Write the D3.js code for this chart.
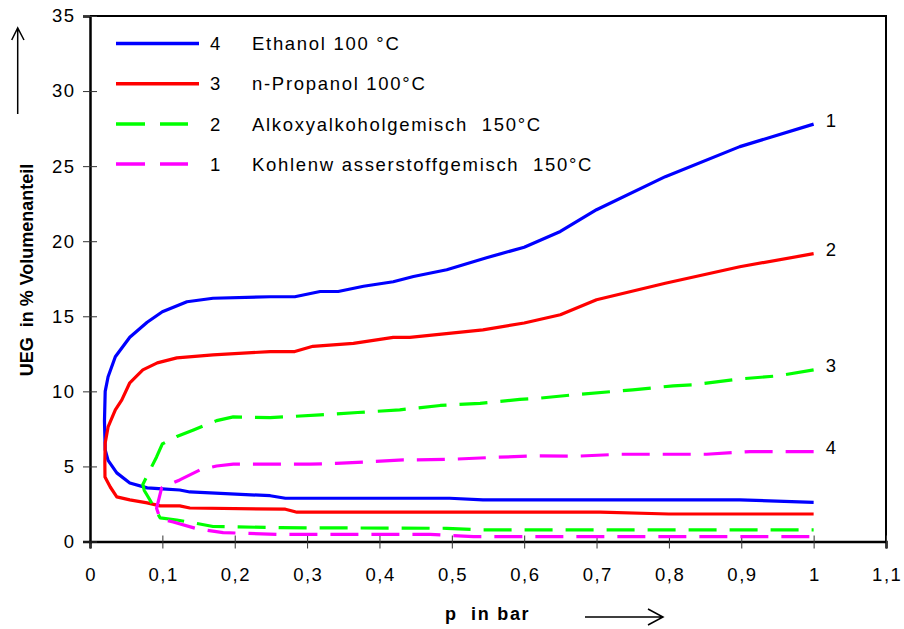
<!DOCTYPE html>
<html>
<head>
<meta charset="utf-8">
<script src="https://cdn.jsdelivr.net/npm/d3@7"></script>
<style>
  body { margin: 0; background: #fff; }
  svg text { font-family: "Liberation Sans", Arial, sans-serif; white-space: pre; }
</style>
</head>
<body>
<div id="chart"></div>
<script>
// UEG curves, each traced from the right end of the upper branch,
// round the nose and back out along the lower branch: [p in bar, UEG in %]
var ethanol = [
  [1.0, 27.8], [0.898, 26.3], [0.795, 24.3], [0.70, 22.1], [0.65, 20.65], [0.6, 19.6],
  [0.548, 18.9], [0.493, 18.1], [0.447, 17.65], [0.419, 17.3], [0.378, 17.0], [0.343, 16.65],
  [0.318, 16.65], [0.283, 16.3], [0.249, 16.3], [0.17, 16.2], [0.134, 15.97], [0.10, 15.3],
  [0.079, 14.6], [0.055, 13.6], [0.035, 12.3], [0.025, 10.97], [0.021, 10.0], [0.02, 8.0],
  [0.021, 6.1], [0.025, 5.4], [0.037, 4.57], [0.055, 3.9], [0.079, 3.57], [0.1, 3.5],
  [0.124, 3.43], [0.138, 3.3], [0.249, 3.05], [0.27, 2.88], [0.497, 2.88], [0.543, 2.77],
  [0.898, 2.77], [1.0, 2.61]
];
var propanol = [
  [1.0, 19.17], [0.898, 18.3], [0.795, 17.2], [0.70, 16.1], [0.65, 15.1], [0.6, 14.55],
  [0.543, 14.1], [0.442, 13.6], [0.419, 13.6], [0.364, 13.2], [0.308, 13.0], [0.283, 12.65],
  [0.249, 12.65], [0.17, 12.43], [0.12, 12.23], [0.093, 11.9], [0.073, 11.43], [0.055, 10.57],
  [0.044, 9.43], [0.035, 8.77], [0.025, 7.63], [0.021, 6.57], [0.0205, 5.3], [0.0207, 4.3],
  [0.028, 3.63], [0.037, 2.97], [0.055, 2.77], [0.079, 2.57], [0.097, 2.37], [0.124, 2.37],
  [0.138, 2.23], [0.27, 2.15], [0.286, 1.95], [0.705, 1.95], [0.8, 1.83], [1.0, 1.83]
];
var alkoxy = [
  [1.0, 11.43], [0.95, 11.03], [0.894, 10.81], [0.833, 10.43], [0.806, 10.37], [0.75, 10.1],
  [0.677, 9.81], [0.622, 9.55], [0.594, 9.47], [0.539, 9.2], [0.484, 9.06], [0.428, 8.77],
  [0.37, 8.59], [0.318, 8.43], [0.249, 8.25], [0.198, 8.3], [0.175, 8.05], [0.143, 7.43],
  [0.12, 7.0], [0.1, 6.5], [0.092, 5.63], [0.083, 4.77], [0.073, 3.8], [0.075, 3.4],
  [0.08, 3.0], [0.092, 1.99], [0.097, 1.57], [0.12, 1.43], [0.148, 1.2], [0.17, 1.0],
  [0.263, 0.92], [0.493, 0.88], [0.543, 0.77], [1.0, 0.77]
];
var kohlenwasserstoff = [
  [1.0, 5.99], [0.912, 5.99], [0.852, 5.81], [0.732, 5.81], [0.672, 5.68], [0.612, 5.7],
  [0.557, 5.6], [0.497, 5.47], [0.433, 5.43], [0.34, 5.2], [0.304, 5.15], [0.198, 5.15],
  [0.175, 5.03], [0.152, 4.77], [0.124, 4.1], [0.099, 3.57], [0.092, 2.21], [0.097, 1.5],
  [0.115, 1.3], [0.148, 0.85], [0.184, 0.59], [0.258, 0.48], [0.47, 0.48], [0.53, 0.32],
  [1.0, 0.32]
];

var legendNumbers = ["4", "3", "2", "1"];
var legendNames = ["Ethanol 100 °C", "n-Propanol 100°C", "Alkoxyalkoholgemisch  150°C", "Kohlenw asserstoffgemisch  150°C"];
var endLabels = ["1", "2", "3", "4"];
var colors = ["#0000ff", "#ff0000", "#00ff00", "#ff00ff"];
var dashed = [false, false, true, true];

var xTicks = [0, 0.1, 0.2, 0.3, 0.4, 0.5, 0.6, 0.7, 0.8, 0.9, 1, 1.1];
var xTickLabels = ["0", "0,1", "0,2", "0,3", "0,4", "0,5", "0,6", "0,7", "0,8", "0,9", "1", "1,1"];
var yTicks = [0, 5, 10, 15, 20, 25, 30, 35];

var series = [ethanol, propanol, alkoxy, kohlenwasserstoff];

var width = 904, height = 629;
var svg = d3.select("#chart").append("svg")
  .attr("width", width)
  .attr("height", height);

var x = d3.scaleLinear().domain([0, 1.1]).range([90, 886]);
var y = d3.scaleLinear().domain([0, 35]).range([541.5, 16]);

// frame top and right
svg.append("path")
  .attr("d", "M" + x(0) + "," + y(35) + "H" + x(1.1) + "V" + y(0))
  .attr("fill", "none")
  .attr("stroke", "#000")
  .attr("stroke-width", 2);

// axes with cross ticks
var xAxis = svg.append("g")
  .attr("transform", "translate(0," + y(0) + ")")
  .call(d3.axisBottom(x).tickValues(xTicks).tickSize(7).tickPadding(19)
    .tickFormat(function(d, i) { return xTickLabels[i]; }));
xAxis.selectAll(".tick line").attr("y1", -6).attr("y2", 7).attr("stroke", "#333");
xAxis.selectAll(".tick text").attr("dx", 0.7);

var yAxis = svg.append("g")
  .attr("transform", "translate(" + x(0) + ",0)")
  .call(d3.axisLeft(y).tickValues(yTicks).tickSize(7).tickPadding(7.5));
yAxis.selectAll(".tick line").attr("x1", 7).attr("x2", -7).attr("stroke", "#333");

svg.selectAll(".domain").attr("stroke", "#000").attr("stroke-width", 2.5);
svg.selectAll(".tick text")
  .attr("font-size", 18.5)
  .attr("letter-spacing", 1.5)
  .attr("fill", "#000")
  .style("font-family", "Liberation Sans, Arial, sans-serif");

// curves
var line = d3.line()
  .x(function(d) { return x(d[0]); })
  .y(function(d) { return y(d[1]); });

svg.selectAll("path.curve")
  .data(series)
  .enter()
    .append("path")
    .attr("class", "curve")
    .attr("d", line)
    .attr("fill", "none")
    .attr("stroke", function(d, i) { return colors[i]; })
    .attr("stroke-width", 3.2)
    .attr("stroke-linejoin", "round")
    .attr("stroke-dasharray", function(d, i) { return dashed[i] ? "28,13" : null; });

// numbers at the right end of each curve
svg.selectAll("text.endlabel")
  .data(series)
  .enter()
    .append("text")
    .attr("class", "endlabel")
    .attr("x", function(d) { return x(d[0][0]) + 12; })
    .attr("y", function(d) { return y(d[0][1]) - 4; })
    .attr("dy", "0.35em")
    .attr("font-size", 18.5)
    .text(function(d, i) { return endLabels[i]; });

// legend
var legend = svg.append("g");
var rows = legend.selectAll("g")
  .data(legendNames)
  .enter()
    .append("g")
    .attr("transform", function(d, i) { return "translate(0," + (43.5 + i * 40.2) + ")"; });

rows.append("line")
  .attr("x1", 116)
  .attr("x2", function(d, i) { return dashed[i] ? 188 : 199; })
  .attr("stroke", function(d, i) { return colors[i]; })
  .attr("stroke-width", 3.5)
  .attr("stroke-dasharray", function(d, i) { return dashed[i] ? "29,15" : null; });

rows.append("text")
  .attr("x", 210)
  .attr("dy", "0.36em")
  .attr("font-size", 18.5)
  .text(function(d, i) { return legendNumbers[i]; });

rows.append("text")
  .attr("x", 252)
  .attr("dy", "0.36em")
  .attr("font-size", 18.5)
  .attr("letter-spacing", 1.7)
  .text(function(d) { return d; });

// axis titles
svg.append("text")
  .attr("transform", "translate(33,270) rotate(-90)")
  .attr("text-anchor", "middle")
  .attr("font-size", 18)
  .attr("font-weight", "bold")
  .text("UEG  in % Volumenanteil");

svg.append("text")
  .attr("x", 445)
  .attr("y", 620)
  .attr("font-size", 18)
  .attr("font-weight", "bold")
  .attr("letter-spacing", 1.7)
  .text("p  in bar");

// arrows next to the titles
svg.append("path")
  .attr("d", "M17.7,114V28M11.7,40L17.7,28L24,40")
  .attr("fill", "none")
  .attr("stroke", "#000")
  .attr("stroke-width", 1.5);

svg.append("path")
  .attr("d", "M585,617H663M648,609L663,617L648,625")
  .attr("fill", "none")
  .attr("stroke", "#000")
  .attr("stroke-width", 1.5);
</script>
</body>
</html>
